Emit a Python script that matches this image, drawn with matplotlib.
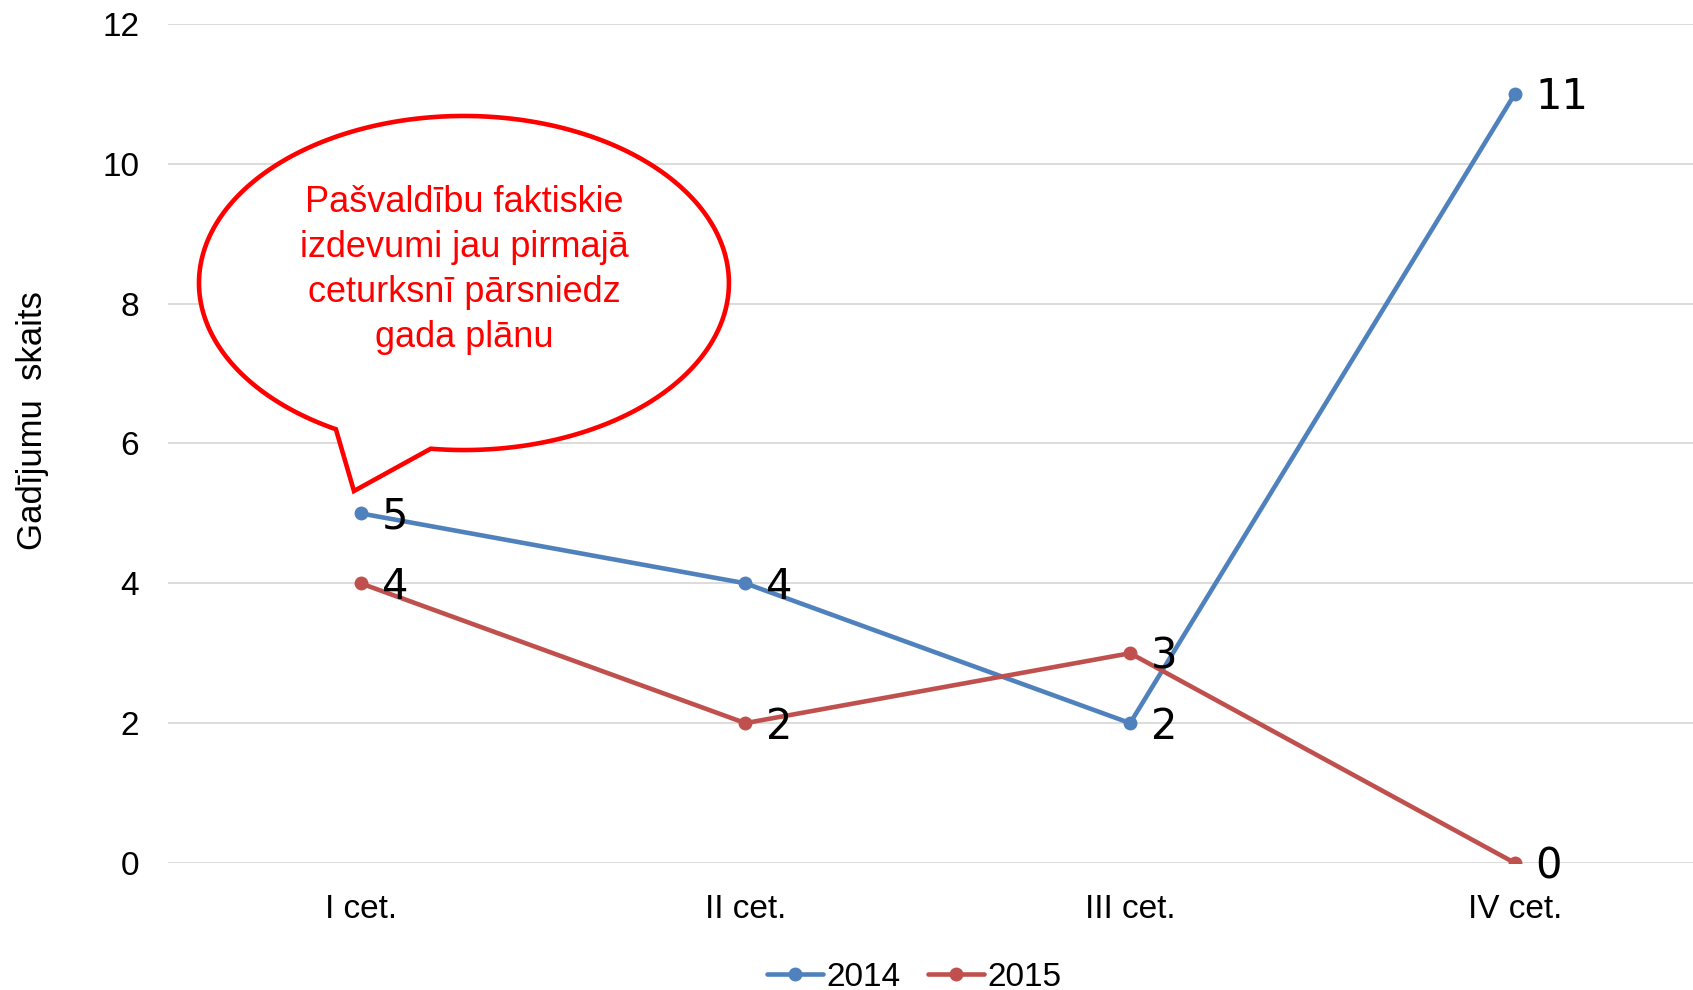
import numpy as np
import matplotlib.pyplot as plt
from matplotlib.patches import Polygon

# Chart data
CATEGORIES = ["I cet.", "II cet.", "III cet.", "IV cet."]
VALUES_2014 = [5, 4, 2, 11]
VALUES_2015 = [4, 2, 3, 0]
SERIES_NAMES = ["2014", "2015"]
Y_TICKS = [0, 2, 4, 6, 8, 10, 12]
CALLOUT_TEXT = "Pašvaldību faktiskie\nizdevumi jau pirmajā\nceturksnī pārsniedz\ngada plānu"

BLUE = "#4F81BD"
RED = "#C0504D"
GRID = "#D9D9D9"

plt.rcParams["font.family"] = ["Liberation Sans", "DejaVu Sans"]

fig = plt.figure(figsize=(16.93, 9.90), dpi=100)
fig.patch.set_facecolor("white")
# the plot area runs a little past the right edge of the figure, as in the original
ax = fig.add_axes([0.0994, 0.1283, 0.909, 0.8475])

x = np.arange(len(CATEGORIES))

l1, = ax.plot(x, VALUES_2014, color=BLUE, lw=3.3, marker="o", ms=9, zorder=3,
              solid_capstyle="round", label=SERIES_NAMES[0])
l2, = ax.plot(x, VALUES_2015, color=RED, lw=3.3, marker="o", ms=9, zorder=3,
              solid_capstyle="round", label=SERIES_NAMES[1])

# data labels to the right of each point
for vals in (VALUES_2014, VALUES_2015):
    for xi, v in zip(x, vals):
        ax.annotate(str(v), (xi, v), xytext=(15, -2.5), textcoords="offset points",
                    ha="left", va="center", fontsize=30, color="black",
                    family=["DejaVu Sans"], zorder=5)

ax.set_xlim(-0.5, len(CATEGORIES) - 0.5)
ax.set_ylim(0, 12)
ax.set_yticks(Y_TICKS)
ax.set_xticks(x)
ax.set_xticklabels(CATEGORIES)
ax.tick_params(axis="y", length=0, pad=21, labelsize=24, labelcolor="black")
ax.tick_params(axis="x", length=0, pad=22, labelsize=24, labelcolor="black")
ax.yaxis.grid(True, color=GRID, lw=1.3)
ax.set_axisbelow(True)
for s in ax.spines.values():
    s.set_visible(False)

fig.text(0.019, 0.575, "Gadījumu  skaits", rotation=90, ha="center", va="center",
         fontsize=25, color="black")

# speech-bubble callout
cx, cy, a, b = 0.2685, 8.295, 0.6887, 2.389
t = np.radians(np.linspace(262.8, 601.1, 300))
pts = list(zip(cx + a * np.cos(t), cy + b * np.sin(t)))
pts.append((-0.0174, 5.32))
bubble = Polygon(pts, closed=True, facecolor="white", edgecolor="#FF0000",
                 lw=3.3, zorder=6, joinstyle="miter")
ax.add_patch(bubble)
ax.text(cx, 8.48, CALLOUT_TEXT, ha="center", va="center", color="#FF0000",
        fontsize=26, linespacing=1.37, zorder=7)

fig.legend(handles=[l1, l2], loc="center", bbox_to_anchor=(0.540, 0.013),
           ncol=2, frameon=False, fontsize=24, handlelength=1.7,
           handletextpad=0.1, columnspacing=0.8, borderaxespad=0)

fig.savefig("out.png", dpi=100, facecolor="white")
